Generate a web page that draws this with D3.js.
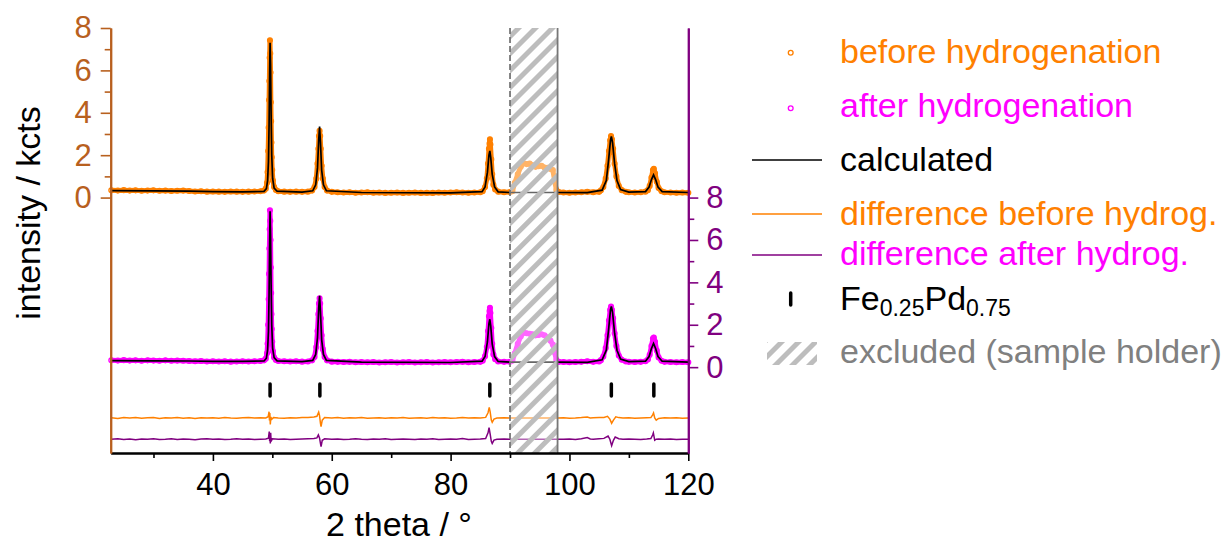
<!DOCTYPE html>
<html>
<head>
<meta charset="utf-8">
<script src="https://cdn.jsdelivr.net/npm/d3@7"></script>
<style>
body { margin: 0; background: #fff; }
text { font-family: "Liberation Sans", Arial, sans-serif; }
</style>
</head>
<body>
<svg id="chart" width="1228" height="545"></svg>
<script>
// DATA (2 theta in degrees, intensity in kcts)
var obsBefore = [
  [22.9,0.34],[24,0.33],[25,0.35],[26,0.33],[27,0.34],[28,0.32],[29,0.33],[30,0.34],[31,0.32],[32,0.33],
  [33,0.31],[34,0.32],[35,0.33],[36,0.31],[37,0.29],[38,0.30],[39,0.28],[40,0.29],[41,0.28],[42,0.27],
  [43,0.29],[44,0.28],[45,0.27],[46,0.28],[47,0.29],[48,0.30],[48.6,0.33],
  [48.9,0.42],[49.1,0.7],[49.2,1.2],[49.3,2.2],[49.38,3.3],[49.45,4.6],[49.5,5.5],[49.55,6.6],[49.6,7.42],
  [49.65,6.8],[49.7,5.9],[49.75,4.5],[49.8,3.6],[49.85,2.6],[49.9,1.9],[49.98,1.3],[50.1,0.8],[50.3,0.5],[50.6,0.36],
  [51,0.30],[52,0.28],[53,0.27],[54,0.28],[55,0.27],[56,0.28],[56.7,0.33],
  [57.1,0.5],[57.4,0.9],[57.6,1.6],[57.75,2.3],[57.85,2.9],[57.95,3.15],[58.05,2.9],[58.15,2.3],[58.3,1.5],
  [58.5,0.9],[58.8,0.5],[59.2,0.33],
  [60,0.27],[61,0.25],[62,0.24],[63,0.25],[64,0.23],[65,0.24],[66,0.25],[67,0.23],[68,0.24],[69,0.22],
  [70,0.23],[71,0.24],[72,0.22],[73,0.23],[74,0.24],[75,0.22],[76,0.23],[77,0.22],[78,0.24],[79,0.23],
  [80,0.24],[81,0.25],[82,0.24],[83,0.23],[84,0.24],[85,0.25],
  [85.4,0.3],[85.8,0.5],[86.1,0.9],[86.3,1.6],[86.45,2.3],[86.55,2.55],[86.62,2.75],[86.7,2.5],[86.85,1.8],
  [87.0,1.1],[87.2,0.6],[87.5,0.38],[88,0.28],[89,0.25],[90,0.26],
  [90.4,0.3],[90.8,0.7],[91.3,1.1],[91.8,1.45],[92.3,1.62],[92.8,1.58],[93.3,1.6],[93.8,1.52],[94.3,1.45],
  [94.8,1.48],[95.3,1.5],[95.8,1.42],[96.3,1.4],[96.8,1.35],[97.2,1.3],[97.5,0.8],[97.8,0.35],[98.2,0.26],
  [99,0.24],[100,0.23],[101,0.24],[102,0.25],[103,0.27],[104,0.25],[105,0.27],
  [105.3,0.34],[105.7,0.5],[106.1,0.9],[106.4,1.5],[106.65,2.2],[106.85,2.7],[107.0,2.9],[107.15,2.75],
  [107.35,2.3],[107.6,1.6],[107.9,1.0],[108.3,0.55],[108.8,0.35],[109.5,0.27],
  [110,0.25],[111,0.24],[112,0.25],[112.8,0.28],
  [113.2,0.35],[113.5,0.55],[113.8,0.95],[114.05,1.3],[114.2,1.36],[114.4,1.15],[114.7,0.75],[115.0,0.45],[115.5,0.3],
  [116,0.25],[117,0.24],[118,0.23],[119,0.24],[120,0.23]
];

var calcBefore = [
  [22.8,0.33],[30,0.32],[36,0.30],[40,0.28],[45,0.27],[48.6,0.29],[49.0,0.42],[49.2,0.8],[49.35,1.7],
  [49.45,3.4],[49.55,6.0],[49.62,7.3],[49.7,6.3],[49.8,3.8],[49.9,2.0],[50.05,0.9],[50.3,0.45],[50.8,0.3],
  [55,0.26],[56.8,0.32],[57.3,0.6],[57.6,1.4],[57.8,2.7],[57.95,3.35],[58.1,2.6],[58.3,1.3],[58.6,0.6],[59.1,0.32],
  [65,0.24],[80,0.22],[85.3,0.28],[85.8,0.5],[86.2,1.2],[86.45,2.0],[86.6,2.2],[86.75,1.9],[87.0,1.1],
  [87.4,0.5],[88,0.27],[90,0.24],[98,0.24],[103,0.23],[105.5,0.35],[106.2,0.8],[106.6,1.8],[106.9,2.7],
  [107.05,2.88],[107.25,2.6],[107.6,1.6],[108.0,0.8],[108.6,0.38],[110,0.26],[112.8,0.28],[113.4,0.5],
  [113.8,0.85],[114.15,1.07],[114.5,0.85],[114.9,0.5],[115.6,0.28],[120,0.24]
];

// after hydrogenation, read on the right axis
var obsAfter = [
  [22.9,0.32],[24,0.31],[25,0.33],[26,0.31],[27,0.32],[28,0.30],[29,0.32],[30,0.31],[31,0.30],[32,0.32],
  [33,0.30],[34,0.31],[35,0.30],[36,0.29],[37,0.28],[38,0.29],[39,0.27],[40,0.28],[41,0.27],[42,0.28],
  [43,0.26],[44,0.27],[45,0.28],[46,0.27],[47,0.28],[48,0.29],[48.6,0.32],
  [48.9,0.4],[49.1,0.65],[49.2,1.1],[49.3,2.0],[49.38,3.2],[49.45,4.4],[49.5,5.6],[49.55,6.5],[49.6,7.4],
  [49.65,6.9],[49.7,6.0],[49.75,4.7],[49.8,3.5],[49.85,2.5],[49.9,1.8],[49.98,1.2],[50.1,0.75],[50.3,0.45],[50.6,0.34],
  [51,0.29],[52,0.28],[53,0.27],[54,0.28],[55,0.26],[56,0.27],[56.7,0.32],
  [57.1,0.48],[57.4,0.95],[57.6,1.7],[57.75,2.5],[57.85,3.0],[57.95,3.25],[58.05,3.0],[58.15,2.3],[58.3,1.5],
  [58.5,0.85],[58.8,0.48],[59.2,0.32],
  [60,0.26],[61,0.25],[62,0.24],[63,0.25],[64,0.23],[65,0.24],[66,0.23],[67,0.24],[68,0.22],[69,0.23],
  [70,0.24],[71,0.22],[72,0.23],[73,0.24],[74,0.22],[75,0.23],[76,0.24],[77,0.22],[78,0.23],[79,0.24],
  [80,0.23],[81,0.24],[82,0.25],[83,0.23],[84,0.24],[85,0.25],
  [85.4,0.3],[85.8,0.52],[86.1,0.95],[86.3,1.7],[86.45,2.4],[86.55,2.65],[86.62,2.8],[86.7,2.55],[86.85,1.85],
  [87.0,1.1],[87.2,0.6],[87.5,0.37],[88,0.27],[89,0.25],[90,0.25],
  [90.4,0.3],[90.8,0.65],[91.3,1.1],[91.8,1.45],[92.3,1.63],[92.8,1.6],[93.3,1.57],[93.8,1.55],[94.3,1.5],
  [94.8,1.52],[95.3,1.55],[95.8,1.5],[96.3,1.4],[96.8,1.25],[97.2,1.07],[97.5,0.7],[97.8,0.33],[98.2,0.25],
  [99,0.24],[100,0.23],[101,0.24],[102,0.25],[103,0.28],[104,0.25],[105,0.27],
  [105.3,0.33],[105.7,0.5],[106.1,0.9],[106.4,1.5],[106.65,2.2],[106.85,2.7],[107.0,2.86],[107.15,2.7],
  [107.35,2.3],[107.6,1.6],[107.9,1.0],[108.3,0.55],[108.8,0.35],[109.5,0.27],
  [110,0.25],[111,0.24],[112,0.25],[112.8,0.28],
  [113.2,0.36],[113.5,0.58],[113.8,1.0],[114.05,1.35],[114.2,1.4],[114.4,1.2],[114.7,0.78],[115.0,0.46],[115.5,0.3],
  [116,0.25],[117,0.24],[118,0.23],[119,0.24],[120,0.23]
];

var calcAfter = [
  [22.8,0.31],[30,0.30],[36,0.29],[40,0.27],[45,0.27],[48.6,0.29],[49.0,0.42],[49.2,0.8],[49.35,1.7],
  [49.45,3.4],[49.55,6.0],[49.62,7.35],[49.7,6.3],[49.8,3.8],[49.9,2.0],[50.05,0.9],[50.3,0.45],[50.8,0.3],
  [55,0.26],[56.8,0.32],[57.3,0.6],[57.6,1.4],[57.8,2.75],[57.95,3.37],[58.1,2.6],[58.3,1.3],[58.6,0.6],[59.1,0.32],
  [65,0.24],[80,0.22],[85.3,0.28],[85.8,0.5],[86.2,1.2],[86.45,2.05],[86.6,2.26],[86.75,1.95],[87.0,1.1],
  [87.4,0.5],[88,0.27],[90,0.24],[98,0.24],[103,0.23],[105.5,0.35],[106.2,0.8],[106.6,1.8],[106.9,2.7],
  [107.05,2.86],[107.25,2.6],[107.6,1.6],[108.0,0.8],[108.6,0.38],[110,0.26],[112.8,0.28],[113.4,0.5],
  [113.8,0.88],[114.15,1.12],[114.5,0.88],[114.9,0.5],[115.6,0.28],[120,0.24]
];

// obs - calc
var diffBefore = [
  [22.9,0.01],[24,-0.02],[25,0.02],[26,0.0],[27,0.02],[28,-0.01],[29,0.01],[30,0.02],[31,-0.02],[32,0.01],
  [33,0.0],[34,0.02],[35,-0.01],[36,0.01],[37,-0.02],[38,0.01],[39,0.0],[40,0.01],[41,-0.01],[42,0.02],
  [43,0.0],[44,-0.01],[45,0.01],[46,0.02],[47,0.0],[48,0.01],[48.9,0.0],[49.3,0.06],[49.45,0.3],
  [49.52,-0.12],[49.58,0.24],[49.66,-0.3],[49.75,0.05],[49.9,-0.06],[50.2,0.02],[51,0.0],[52,-0.01],
  [53,0.01],[54,0.0],[55,0.02],[56,0.03],[57,0.05],[57.5,0.08],[57.8,0.28],[57.95,0.1],[58.1,-0.25],
  [58.2,-0.4],[58.4,-0.1],[58.8,0.02],[60,0.0],[61,0.02],[62,-0.01],[63,0.01],[64,0.0],[65,0.02],
  [66,-0.01],[67,0.0],[68,0.01],[69,-0.01],[70,0.01],[71,0.0],[72,0.02],[73,-0.01],[74,0.0],[75,0.01],
  [76,-0.01],[77,0.02],[78,0.0],[79,0.01],[80,-0.01],[81,0.0],[82,0.03],[83,0.0],[84,0.01],[85,0.0],
  [85.9,0.03],[86.3,0.25],[86.5,0.5],[86.65,0.3],[86.85,-0.1],[87.0,-0.2],[87.3,-0.05],[87.8,0.0],
  [89,0.01],[90,0.0],[98,0.0],[99,0.01],[100,-0.01],[101,0.0],[102,0.02],[103,0.05],[103.5,0.0],
  [104,0.01],[105,0.02],[105.8,0.03],[106.4,0.08],[106.8,-0.05],[107.1,-0.25],[107.4,-0.1],[107.8,0.06],
  [108.3,0.02],[109,0.0],[110,0.01],[111,-0.01],[112,0.0],[113,0.01],[113.7,0.02],[114.0,0.15],
  [114.15,0.24],[114.35,0.0],[114.6,-0.1],[115,-0.02],[116,0.01],[117,0.0],[118,0.01],[119,-0.01],[120,0.0]
];

var diffAfter = [
  [22.9,0.0],[24,0.02],[25,-0.01],[26,0.01],[27,-0.02],[28,0.01],[29,0.0],[30,0.02],[31,-0.01],[32,0.0],
  [33,0.02],[34,-0.01],[35,0.01],[36,0.0],[37,-0.02],[38,0.01],[39,0.02],[40,0.0],[41,0.01],[42,-0.01],
  [43,0.0],[44,0.02],[45,0.0],[46,0.01],[47,-0.01],[48,0.0],[48.9,0.01],[49.35,0.05],[49.48,0.36],
  [49.55,-0.1],[49.6,0.15],[49.66,-0.2],[49.72,0.3],[49.8,-0.1],[50.0,0.02],[51,0.0],[52,0.01],
  [53,-0.01],[54,0.0],[55,0.01],[56,0.02],[57,0.03],[57.5,0.06],[57.75,0.2],[57.95,0.05],[58.1,-0.2],
  [58.2,-0.35],[58.4,-0.05],[58.8,0.02],[60,0.0],[61,0.01],[62,-0.01],[63,0.0],[64,0.02],[65,0.0],
  [66,-0.01],[67,0.01],[68,0.0],[69,0.02],[70,-0.01],[71,0.0],[72,0.01],[73,0.0],[74,-0.01],[75,0.01],
  [76,0.0],[77,0.02],[78,-0.01],[79,0.0],[80,0.01],[81,0.0],[82,0.03],[83,-0.01],[84,0.0],[85,0.01],
  [85.9,0.03],[86.3,0.3],[86.47,0.55],[86.65,0.25],[86.85,-0.1],[87.0,-0.2],[87.3,-0.04],[87.8,0.0],
  [89,0.01],[90,0.0],[98,0.0],[99,0.0],[100,0.01],[101,-0.01],[102,0.02],[103,0.08],[103.5,0.01],
  [104,0.0],[105,0.02],[105.8,0.04],[106.5,0.15],[106.8,0.0],[107.1,-0.3],[107.4,-0.05],[107.7,0.1],
  [108.3,0.02],[109,0.0],[110,0.01],[111,0.0],[112,-0.01],[113,0.01],[113.7,0.03],[114.0,0.2],
  [114.12,0.3],[114.35,-0.05],[114.6,0.0],[115,0.01],[116,0.0],[117,0.01],[118,-0.01],[119,0.0],[120,0.0]
];

var reflections = [49.62, 58.0, 86.6, 107.05, 114.2];
var excluded = [90, 98];

var xTicks = [40, 60, 80, 100, 120];
var xMinorTicks = [30, 50, 70, 90, 110];
var yTicks = [0, 2, 4, 6, 8];
var yMinorTicks = [1, 3, 5, 7];

var legendLabels = ["before hydrogenation", "after hydrogenation", "calculated",
  "difference before hydrog.", "difference after hydrog.", "", "excluded (sample holder)"];

// colours
var orange = "#ff8000"
  , magenta = "#ff00ff"
  , purple = "#800080"
  , brown = "#b8601e"
  , grey = "#808080";

var svg = d3.select("#chart");

var x = d3.scaleLinear().domain([22.8, 120]).range([110.7, 688.3]);
var yL = d3.scaleLinear().domain([-12.05, 8]).range([453, 28]);
var yR = d3.scaleLinear().domain([-4.05, 16]).range([453, 28]);

// hatch pattern
var defs = svg.append("defs");
var pat = defs.append("pattern")
  .attr("id", "hatch")
  .attr("patternUnits", "userSpaceOnUse")
  .attr("width", 12).attr("height", 12)
  .attr("patternTransform", "rotate(45)");
pat.append("rect").attr("width", 12).attr("height", 12).attr("fill", "rgba(255,255,255,0.4)");
pat.append("rect").attr("width", 5).attr("height", 12).attr("fill", "#bdbdbd");

var plot = svg.append("g");

function drawPattern(obs, calc, y, col) {
  var line = d3.line().x(function(d) { return x(d[0]); }).y(function(d) { return y(d[1]); });
  plot.append("path").datum(obs)
    .attr("d", line).attr("fill", "none")
    .attr("stroke", col).attr("stroke-width", 5).attr("stroke-linejoin", "round");
  plot.append("g").selectAll("circle")
    .data(obs).enter().append("circle")
    .attr("cx", function(d) { return x(d[0]); })
    .attr("cy", function(d) { return y(d[1]); })
    .attr("r", 2.4)
    .attr("fill", "none").attr("stroke", col).attr("stroke-width", 1.3);
  plot.append("path").datum(calc)
    .attr("d", line).attr("fill", "none")
    .attr("stroke", "#000").attr("stroke-width", 1.7);
}

drawPattern(obsBefore, calcBefore, yL, orange);
drawPattern(obsAfter, calcAfter, yR, magenta);

// difference curves, shifted below the patterns
function drawDiff(data, offset, col) {
  var line = d3.line().x(function(d) { return x(d[0]); }).y(function(d) { return yL(d[1] + offset); });
  plot.append("path").datum(data)
    .attr("d", line).attr("fill", "none")
    .attr("stroke", col).attr("stroke-width", 1.5);
}
drawDiff(diffBefore, -10.4, orange);
drawDiff(diffAfter, -11.4, purple);

// reflection markers
plot.append("g").selectAll("line")
  .data(reflections).enter().append("line")
  .attr("x1", function(d) { return x(d); }).attr("x2", function(d) { return x(d); })
  .attr("y1", 384).attr("y2", 396)
  .attr("stroke", "#000").attr("stroke-width", 3.5).attr("stroke-linecap", "round");

// excluded region on top
svg.append("rect")
  .attr("x", x(excluded[0])).attr("y", 28)
  .attr("width", x(excluded[1]) - x(excluded[0])).attr("height", 425)
  .attr("fill", "url(#hatch)");
svg.append("line")
  .attr("x1", x(excluded[0])).attr("x2", x(excluded[0])).attr("y1", 28).attr("y2", 453)
  .attr("stroke", "#777").attr("stroke-width", 1.8).attr("stroke-dasharray", "6,3");
svg.append("line")
  .attr("x1", x(excluded[1])).attr("x2", x(excluded[1])).attr("y1", 28).attr("y2", 453)
  .attr("stroke", "#777").attr("stroke-width", 1.8);

// axes
function styleAxis(g, col, size) {
  g.selectAll("path").attr("stroke", col).attr("stroke-width", 2);
  g.selectAll("line").attr("stroke", col).attr("stroke-width", 1.6);
  g.selectAll("text").attr("fill", col).style("font-size", size + "px")
    .style("font-family", "'Liberation Sans', Arial, sans-serif");
}

var gx = svg.append("g").attr("transform", "translate(0,453)")
  .call(d3.axisBottom(x).tickValues(xTicks).tickSize(8).tickSizeOuter(0).tickPadding(12).tickFormat(d3.format("d")));
styleAxis(gx, "#000", 31);
var gx2 = svg.append("g").attr("transform", "translate(0,453)")
  .call(d3.axisBottom(x).tickValues(xMinorTicks).tickSize(5).tickSizeOuter(0).tickFormat(""));
styleAxis(gx2, "#000", 31);

var gl = svg.append("g").attr("transform", "translate(110.7,0)")
  .call(d3.axisLeft(yL).tickValues(yTicks).tickSize(10).tickSizeOuter(0).tickPadding(9));
styleAxis(gl, brown, 31);
var gl2 = svg.append("g").attr("transform", "translate(110.7,0)")
  .call(d3.axisLeft(yL).tickValues(yMinorTicks).tickSize(6).tickSizeOuter(0).tickFormat(""));
styleAxis(gl2, brown, 31);

var gr = svg.append("g").attr("transform", "translate(688.3,0)")
  .call(d3.axisRight(yR).tickValues(yTicks).tickSize(10).tickSizeOuter(0).tickPadding(8));
styleAxis(gr, purple, 31);
var gr2 = svg.append("g").attr("transform", "translate(688.3,0)")
  .call(d3.axisRight(yR).tickValues(yMinorTicks).tickSize(6).tickSizeOuter(0).tickFormat(""));
styleAxis(gr2, purple, 31);

// axis titles
svg.append("text")
  .attr("transform", "translate(40,213) rotate(-90)")
  .attr("text-anchor", "middle")
  .style("font-size", "34px")
  .text("intensity / kcts");

svg.append("text")
  .attr("x", 399).attr("y", 536)
  .attr("text-anchor", "middle")
  .style("font-size", "34px")
  .text("2 theta / \u00b0");

// legend
var lg = svg.append("g");
var rowY = [63, 117, 171, 225, 265, 310, 363];
var lineY = [0, 0, 160, 214, 255];

lg.append("circle").attr("cx", 790.7).attr("cy", 52.7).attr("r", 2.4)
  .attr("fill", "none").attr("stroke", orange).attr("stroke-width", 1.3);
lg.append("circle").attr("cx", 790.7).attr("cy", 108.3).attr("r", 2.4)
  .attr("fill", "none").attr("stroke", magenta).attr("stroke-width", 1.3);
[[2, "#000"], [3, orange], [4, purple]].forEach(function(p) {
  lg.append("line").attr("x1", 752).attr("x2", 822)
    .attr("y1", lineY[p[0]]).attr("y2", lineY[p[0]])
    .attr("stroke", p[1]).attr("stroke-width", 1.6);
});
lg.append("line").attr("x1", 790.7).attr("x2", 790.7).attr("y1", 293).attr("y2", 305)
  .attr("stroke", "#000").attr("stroke-width", 3.5).attr("stroke-linecap", "round");
lg.append("rect").attr("x", 767).attr("y", 342).attr("width", 50).attr("height", 23)
  .attr("fill", "url(#hatch)");

var legendColors = [orange, magenta, "#000", orange, magenta, "#000", grey];
legendLabels.forEach(function(t, i) {
  if (t === "") { return; }
  lg.append("text").attr("x", 840).attr("y", rowY[i])
    .attr("fill", legendColors[i]).style("font-size", "34px").text(t);
});

var fe = lg.append("text").attr("x", 840).attr("y", rowY[5]).style("font-size", "34px");
fe.append("tspan").text("Fe");
fe.append("tspan").attr("dy", 6).style("font-size", "23px").text("0.25");
fe.append("tspan").attr("dy", -6).text("Pd");
fe.append("tspan").attr("dy", 6).style("font-size", "23px").text("0.75");
</script>
</body>
</html>
